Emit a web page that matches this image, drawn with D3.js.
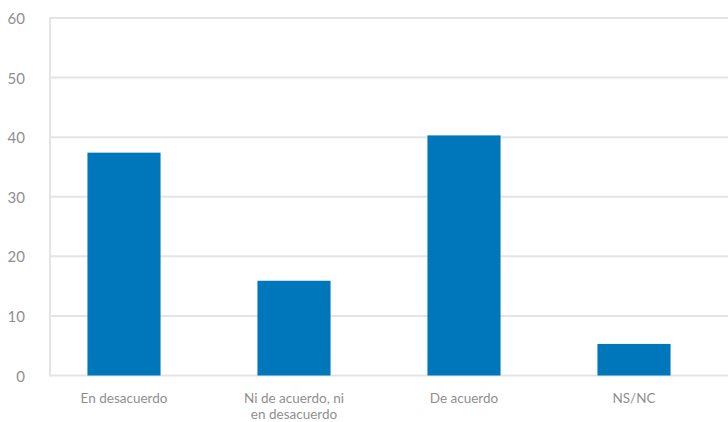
<!DOCTYPE html>
<html><head><meta charset="utf-8">
<script src="https://cdn.jsdelivr.net/npm/d3@7"></script>
<style>html,body{margin:0;padding:0;background:#fff;}svg{display:block;}</style>
</head><body>
<svg id="c" width="728" height="422"></svg>
<script>
const categories = ["En desacuerdo", "Ni de acuerdo, ni|en desacuerdo", "De acuerdo", "NS/NC"];
const values = [37.4, 15.9, 40.3, 5.3];
const yTicks = [0, 10, 20, 30, 40, 50, 60];

(function () {
const svg = d3.select("#c");
const mLeft = 50, mRight = 728, mTop = 18, mBottom = 375.5;
const font = "Lato, 'Open Sans', sans-serif";
const textColor = "#8f8f8f";
const gridColor = "#e4e4e4";

const y = d3.scaleLinear().domain([0, 60]).range([mBottom, mTop]);
const x = d3.scaleBand().domain(categories).range([39, 719]).paddingInner(0.57).paddingOuter(0.285);

// gridlines
svg.append("g").selectAll("line").data(yTicks).join("line")
  .attr("x1", mLeft).attr("x2", mRight)
  .attr("y1", d => y(d)).attr("y2", d => y(d))
  .attr("stroke", gridColor).attr("stroke-width", 2);

// left axis line
svg.append("line").attr("x1", mLeft).attr("x2", mLeft)
  .attr("y1", y(60) - 1).attr("y2", y(0) + 1)
  .attr("stroke", gridColor).attr("stroke-width", 2);

// y tick labels
svg.append("g").selectAll("text").data(yTicks).join("text")
  .attr("x", 25).attr("y", d => y(d)).attr("dy", "0.4em")
  .attr("text-anchor", "end")
  .attr("font-family", font).attr("font-size", 15).attr("fill", textColor)
  .text(d => d);

// bars
svg.append("g").selectAll("rect").data(categories).join("rect")
  .attr("x", d => x(d)).attr("width", x.bandwidth())
  .attr("y", (d, i) => y(values[i]))
  .attr("height", (d, i) => y(0) - y(values[i]))
  .attr("fill", "#0077bb");

// x labels
const lab = svg.append("g").selectAll("text").data(categories).join("text")
  .attr("x", d => x(d) + x.bandwidth() / 2)
  .attr("y", 403)
  .attr("text-anchor", "middle")
  .attr("font-family", font).attr("font-size", 13.5).attr("fill", textColor);
lab.each(function(d) {
  const parts = d.split("|");
  const t = d3.select(this);
  parts.forEach((p, i) => {
    t.append("tspan").attr("x", x(d) + x.bandwidth() / 2).attr("dy", i === 0 ? 0 : 16).text(p);
  });
});
})();
</script>
</body></html>
